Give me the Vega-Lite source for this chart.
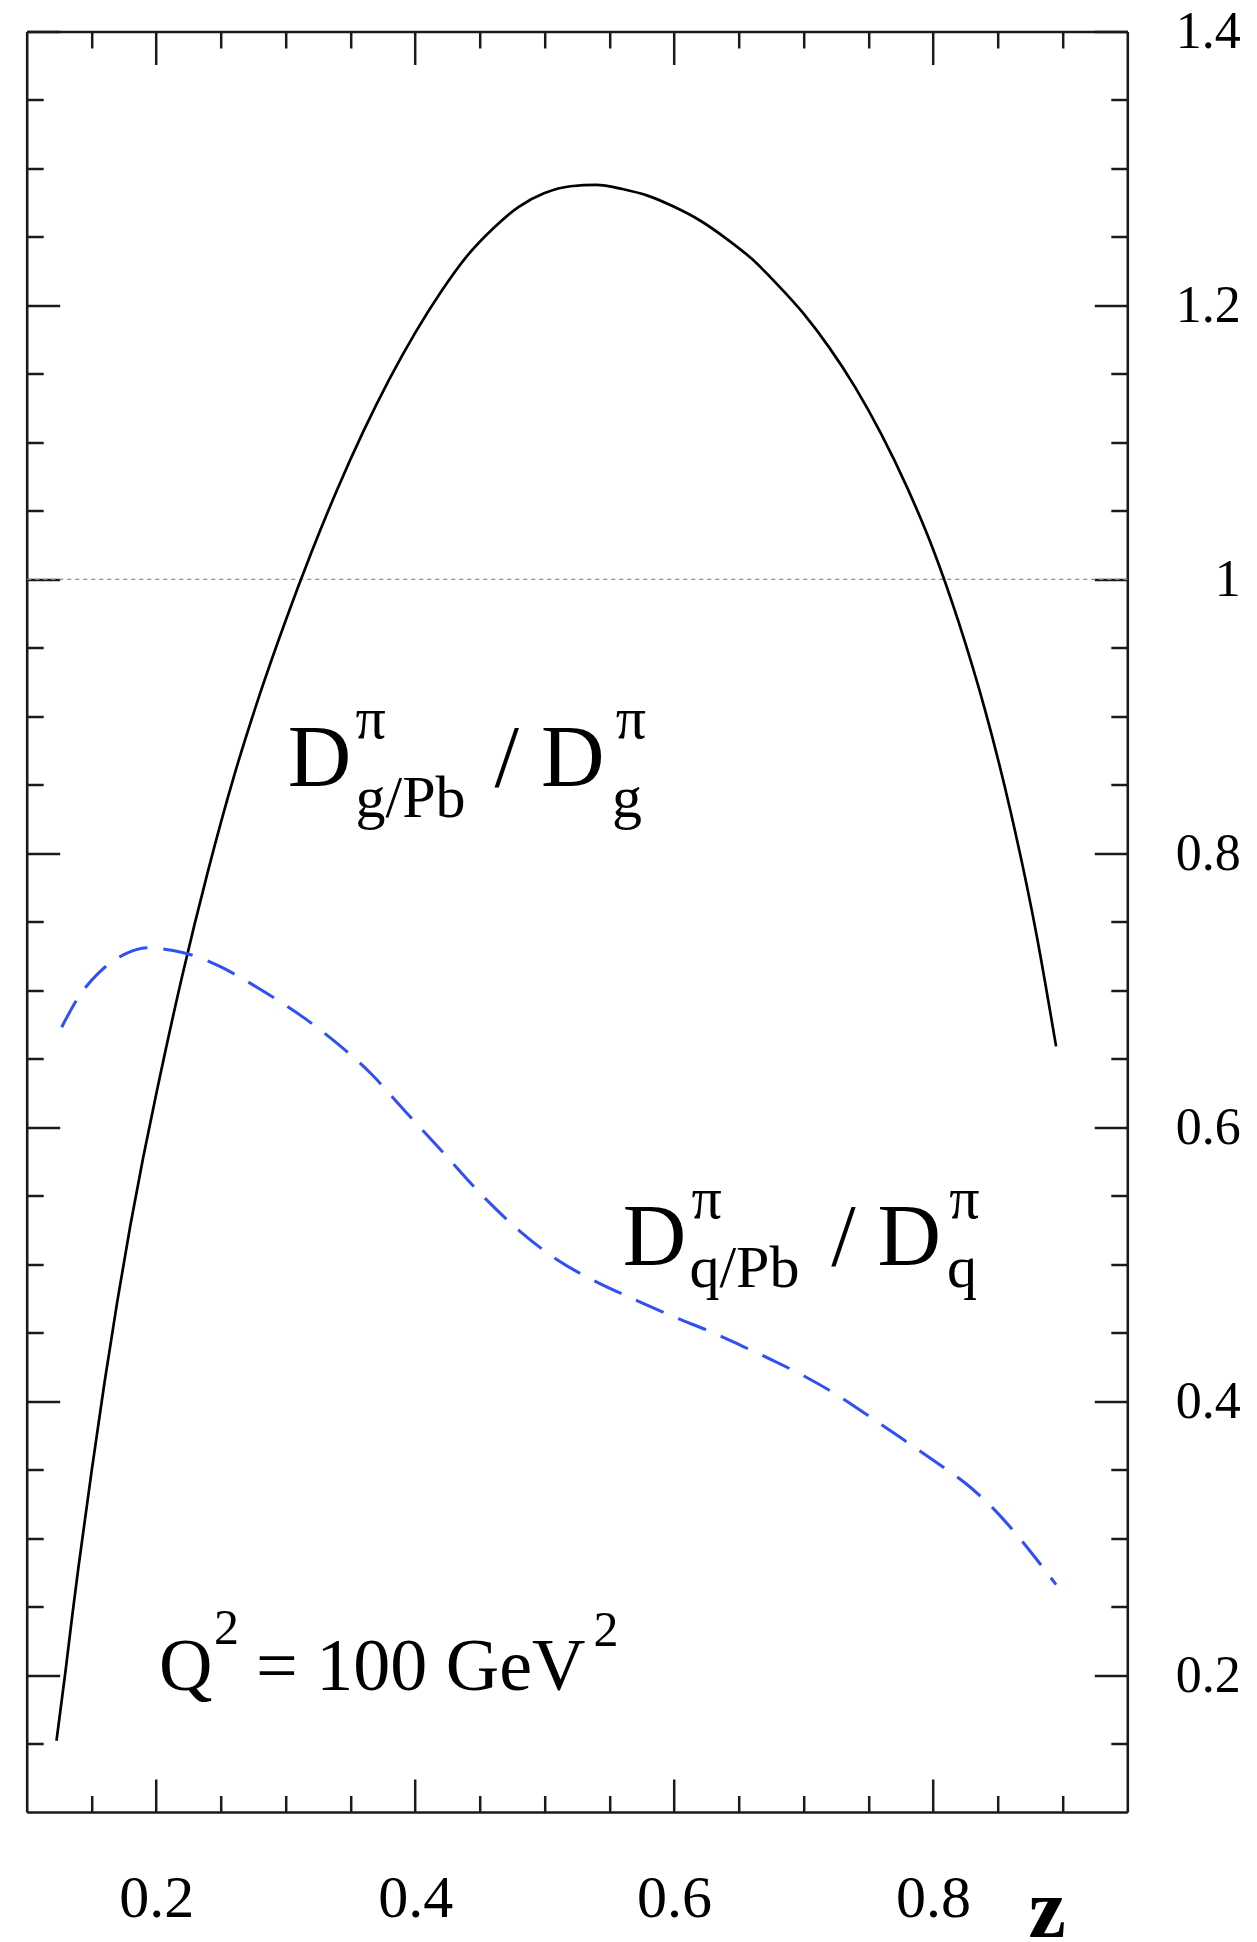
{
  "$schema": "https://vega.github.io/schema/vega-lite/v6.json",
  "width": 1100.6,
  "height": 1780.5,
  "autosize": "none",
  "padding": {"left": 26.7, "top": 31.5, "right": 129.7, "bottom": 130},
  "background": "white",
  "config": {
    "view": {"stroke": null},
    "axis": {
      "grid": false,
      "domainColor": "#1a1a1a",
      "domainWidth": 2.6,
      "tickColor": "#1a1a1a",
      "tickWidth": 2.5,
      "labelFont": "Liberation Serif",
      "labelColor": "#000",
      "labelOverlap": false,
      "labelFlush": false,
      "labelBound": false
    }
  },
  "datasets": {
    "unity": [{"v": 1}],
    "gluon": [
      {"z": 0.123, "r": 0.152}, {"z": 0.13, "r": 0.203}, {"z": 0.135, "r": 0.242}, {"z": 0.14, "r": 0.279},
      {"z": 0.15, "r": 0.348}, {"z": 0.16, "r": 0.413}, {"z": 0.17, "r": 0.473}, {"z": 0.18, "r": 0.528},
      {"z": 0.19, "r": 0.578}, {"z": 0.2, "r": 0.624}, {"z": 0.22, "r": 0.71}, {"z": 0.24, "r": 0.787},
      {"z": 0.26, "r": 0.856}, {"z": 0.28, "r": 0.916}, {"z": 0.3, "r": 0.97}, {"z": 0.32, "r": 1.02},
      {"z": 0.34, "r": 1.066}, {"z": 0.36, "r": 1.108}, {"z": 0.38, "r": 1.146}, {"z": 0.4, "r": 1.18},
      {"z": 0.42, "r": 1.21}, {"z": 0.44, "r": 1.236}, {"z": 0.46, "r": 1.256}, {"z": 0.48, "r": 1.272},
      {"z": 0.5, "r": 1.282}, {"z": 0.52, "r": 1.287}, {"z": 0.54, "r": 1.288}, {"z": 0.56, "r": 1.285},
      {"z": 0.58, "r": 1.28}, {"z": 0.6, "r": 1.272}, {"z": 0.62, "r": 1.262}, {"z": 0.64, "r": 1.249},
      {"z": 0.66, "r": 1.234}, {"z": 0.68, "r": 1.215}, {"z": 0.7, "r": 1.194}, {"z": 0.72, "r": 1.169},
      {"z": 0.74, "r": 1.14}, {"z": 0.76, "r": 1.106}, {"z": 0.78, "r": 1.067}, {"z": 0.8, "r": 1.022},
      {"z": 0.82, "r": 0.968}, {"z": 0.84, "r": 0.905}, {"z": 0.86, "r": 0.83}, {"z": 0.88, "r": 0.74},
      {"z": 0.895, "r": 0.659}
    ],
    "quark": [
      {"z": 0.127, "r": 0.673}, {"z": 0.14, "r": 0.695}, {"z": 0.156, "r": 0.713}, {"z": 0.175, "r": 0.726},
      {"z": 0.194, "r": 0.731}, {"z": 0.213, "r": 0.729}, {"z": 0.233, "r": 0.724}, {"z": 0.25, "r": 0.717},
      {"z": 0.271, "r": 0.706}, {"z": 0.29, "r": 0.695}, {"z": 0.314, "r": 0.68}, {"z": 0.34, "r": 0.661},
      {"z": 0.366, "r": 0.639}, {"z": 0.39, "r": 0.614}, {"z": 0.424, "r": 0.579}, {"z": 0.45, "r": 0.552},
      {"z": 0.481, "r": 0.524}, {"z": 0.51, "r": 0.503}, {"z": 0.538, "r": 0.488}, {"z": 0.57, "r": 0.474},
      {"z": 0.601, "r": 0.461}, {"z": 0.63, "r": 0.45}, {"z": 0.653, "r": 0.44}, {"z": 0.68, "r": 0.428},
      {"z": 0.701, "r": 0.418}, {"z": 0.725, "r": 0.405}, {"z": 0.749, "r": 0.39}, {"z": 0.78, "r": 0.37},
      {"z": 0.806, "r": 0.353}, {"z": 0.825, "r": 0.34}, {"z": 0.844, "r": 0.324}, {"z": 0.865, "r": 0.302},
      {"z": 0.882, "r": 0.282}, {"z": 0.895, "r": 0.266}
    ],
    "bigText": [
      {"z": 0.3016, "r": 0.849, "t": "D"},
      {"z": 0.4613, "r": 0.849, "t": "/ D"},
      {"z": 0.5603, "r": 0.4994, "t": "D"},
      {"z": 0.7213, "r": 0.4994, "t": "/ D"}
    ],
    "smallText": [
      {"z": 0.354, "r": 0.884, "t": "π"},
      {"z": 0.354, "r": 0.8265, "t": "g/Pb"},
      {"z": 0.555, "r": 0.884, "t": "π"},
      {"z": 0.552, "r": 0.8265, "t": "g"},
      {"z": 0.6134, "r": 0.5337, "t": "π"},
      {"z": 0.6118, "r": 0.4833, "t": "q/Pb"},
      {"z": 0.8124, "r": 0.5337, "t": "π"},
      {"z": 0.8108, "r": 0.4833, "t": "q"}
    ],
    "qText": [
      {"z": 0.2021, "r": 0.189, "t": "Q"},
      {"z": 0.2771, "r": 0.189, "t": "= 100 GeV"}
    ],
    "qSup": [
      {"z": 0.2447, "r": 0.2226, "t": "2"},
      {"z": 0.5377, "r": 0.2215, "t": "2"}
    ]
  },
  "resolve": {"axis": {"x": "independent", "y": "independent"}},
  "layer": [
    {
      "data": {"name": "unity"},
      "mark": {"type": "rule", "color": "#8a8a8a", "strokeWidth": 1.2, "strokeDash": [4, 4]},
      "encoding": {
        "y": {"field": "v", "type": "quantitative", "scale": {"domain": [0.1, 1.4], "nice": false, "zero": false}, "axis": null}
      }
    },
    {
      "data": {"name": "gluon"},
      "mark": {"type": "line", "color": "#000000", "strokeWidth": 2.7, "interpolate": "monotone"},
      "encoding": {
        "x": {
          "field": "z", "type": "quantitative",
          "scale": {"domain": [0.1, 0.95], "nice": false, "zero": false},
          "axis": {
            "orient": "bottom",
            "values": [0.15, 0.2, 0.25, 0.3, 0.35, 0.4, 0.45, 0.5, 0.55, 0.6, 0.65, 0.7, 0.75, 0.8, 0.85, 0.9],
            "tickSize": {"condition": {"test": "abs(datum.value*5 - round(datum.value*5)) < 0.01", "value": -33}, "value": -16.5},
            "labelExpr": "abs(datum.value*5 - round(datum.value*5)) < 0.01 ? format(datum.value, '.1~f') : ''",
            "labelFontSize": 60,
            "labelPadding": 119,
            "labelBaseline": "middle",
            "title": "z",
            "titleFont": "Liberation Serif",
            "titleFontWeight": "bold",
            "titleFontSize": 84,
            "titleColor": "#000",
            "titleX": 1020,
            "titleY": 124,
            "titleAlign": "center",
            "titleBaseline": "alphabetic"
          }
        },
        "y": {
          "field": "r", "type": "quantitative",
          "scale": {"domain": [0.1, 1.4], "nice": false, "zero": false},
          "axis": {
            "orient": "right",
            "values": [0.15, 0.2, 0.25, 0.3, 0.35, 0.4, 0.45, 0.5, 0.55, 0.6, 0.65, 0.7, 0.75, 0.8, 0.85, 0.9, 0.95, 1, 1.05, 1.1, 1.15, 1.2, 1.25, 1.3, 1.35, 1.4],
            "tickSize": {"condition": {"test": "abs(datum.value*5 - round(datum.value*5)) < 0.01", "value": -33}, "value": -16.5},
            "labelExpr": "abs(datum.value*5 - round(datum.value*5)) < 0.01 ? format(datum.value, '.1~f') : ''",
            "labelFontSize": 52,
            "labelAlign": "right",
            "labelBaseline": "middle",
            "labelPadding": 146,
            "title": null
          }
        }
      }
    },
    {
      "data": {"name": "quark"},
      "mark": {"type": "line", "color": "#2f4ff7", "strokeWidth": 3, "strokeDash": [30, 16], "interpolate": "monotone"},
      "encoding": {
        "x": {
          "field": "z", "type": "quantitative",
          "axis": {
            "orient": "top",
            "values": [0.15, 0.2, 0.25, 0.3, 0.35, 0.4, 0.45, 0.5, 0.55, 0.6, 0.65, 0.7, 0.75, 0.8, 0.85, 0.9],
            "tickSize": {"condition": {"test": "abs(datum.value*5 - round(datum.value*5)) < 0.01", "value": -33}, "value": -16.5},
            "labels": false,
            "title": null
          }
        },
        "y": {
          "field": "r", "type": "quantitative",
          "axis": {
            "orient": "left",
            "values": [0.15, 0.2, 0.25, 0.3, 0.35, 0.4, 0.45, 0.5, 0.55, 0.6, 0.65, 0.7, 0.75, 0.8, 0.85, 0.9, 0.95, 1, 1.05, 1.1, 1.15, 1.2, 1.25, 1.3, 1.35, 1.4],
            "tickSize": {"condition": {"test": "abs(datum.value*5 - round(datum.value*5)) < 0.01", "value": -33}, "value": -16.5},
            "labels": false,
            "title": null
          }
        }
      }
    },
    {
      "data": {"name": "bigText"},
      "mark": {"type": "text", "font": "Liberation Serif", "fontSize": 88, "align": "left", "baseline": "alphabetic", "color": "#000"},
      "encoding": {
        "x": {"field": "z", "type": "quantitative", "axis": null},
        "y": {"field": "r", "type": "quantitative", "axis": null},
        "text": {"field": "t"}
      }
    },
    {
      "data": {"name": "smallText"},
      "mark": {"type": "text", "font": "Liberation Serif", "fontSize": 60, "align": "left", "baseline": "alphabetic", "color": "#000"},
      "encoding": {
        "x": {"field": "z", "type": "quantitative", "axis": null},
        "y": {"field": "r", "type": "quantitative", "axis": null},
        "text": {"field": "t"}
      }
    },
    {
      "data": {"name": "qText"},
      "mark": {"type": "text", "font": "Liberation Serif", "fontSize": 74, "align": "left", "baseline": "alphabetic", "color": "#000"},
      "encoding": {
        "x": {"field": "z", "type": "quantitative", "axis": null},
        "y": {"field": "r", "type": "quantitative", "axis": null},
        "text": {"field": "t"}
      }
    },
    {
      "data": {"name": "qSup"},
      "mark": {"type": "text", "font": "Liberation Serif", "fontSize": 50, "align": "left", "baseline": "alphabetic", "color": "#000"},
      "encoding": {
        "x": {"field": "z", "type": "quantitative", "axis": null},
        "y": {"field": "r", "type": "quantitative", "axis": null},
        "text": {"field": "t"}
      }
    }
  ]
}
